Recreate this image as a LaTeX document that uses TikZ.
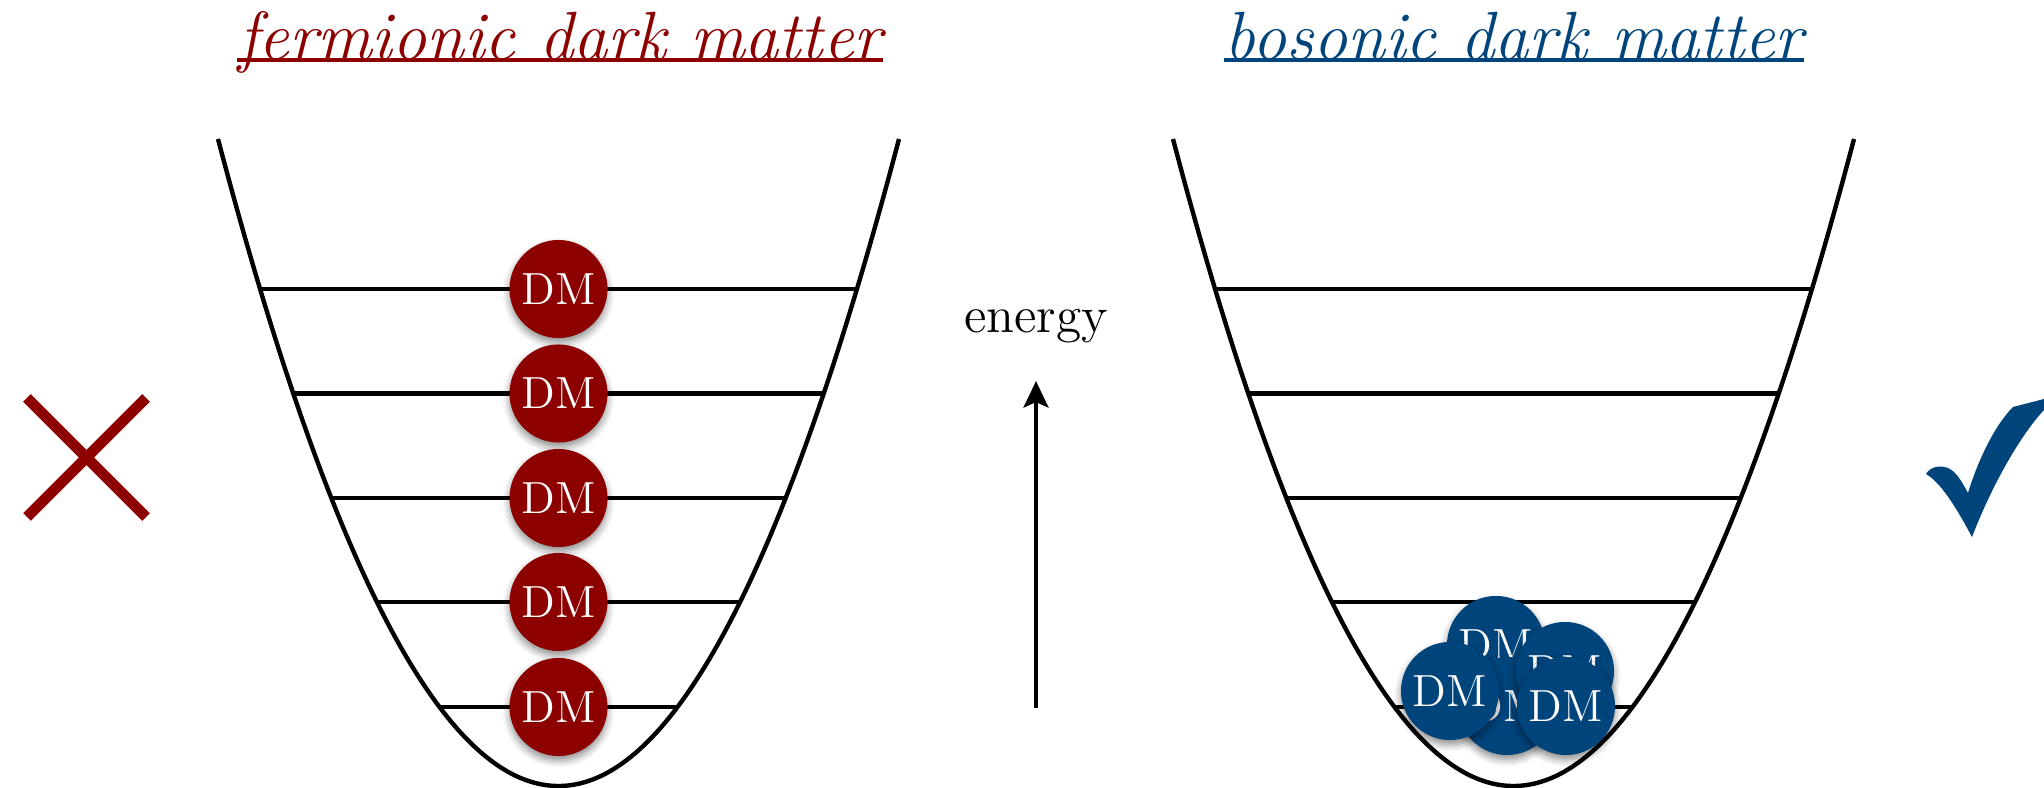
\documentclass[tikz,border=0pt]{standalone}
\usetikzlibrary{arrows.meta,shadows.blur}
\definecolor{dmred}{RGB}{140,0,0}
\definecolor{dmblue}{RGB}{0,68,124}
\begin{document}
\begin{tikzpicture}[x=0.01cm,y=-0.01cm,
  well/.style={line width=1.25pt, black},
  lvl/.style={line width=1.25pt, black},
  dmball/.style={circle, minimum size=0.98cm, inner sep=0pt, text=white,
    font=\fontsize{12.8}{14}\selectfont,
    blur shadow={shadow xshift=0pt, shadow yshift=-1.3pt, shadow blur radius=2pt, shadow opacity=45}},
  fdm/.style={dmball, fill=dmred},
  bdm/.style={dmball, fill=dmblue},
  ttl/.style={font=\fontsize{19.4}{22}\selectfont\itshape, inner sep=0pt, anchor=base},
  uline/.style={line width=0.9pt, yshift=-2.9pt},
  xmark/.style={line width=3.1pt, dmred, line cap=butt},
  energyarrow/.style={line width=1.4pt, -{Stealth[length=7.5pt,width=7pt,inset=1.5pt]}},
]
\useasboundingbox (0,0) rectangle (2044,788);

% titles
\node[ttl, text=dmred] (tf) at (560,60) {fermionic dark matter};
\draw[uline, dmred] (tf.base west) -- (tf.base east);
\node[ttl, text=dmblue] (tb) at (1514,60) {bosonic dark matter};
\draw[uline, dmblue] (tb.base west) -- (tb.base east);

% left well
\draw[well] (218,139) .. controls (445,1001.7) and (672,1001.7) .. (899,139);
\draw[lvl] (260.1,289) -- (856.9,289);
\draw[lvl] (293.3,393.5) -- (823.7,393.5);
\draw[lvl] (331.3,498) -- (785.7,498);
\draw[lvl] (376.9,602) -- (740.1,602);
\draw[lvl] (439.5,707) -- (677.5,707);

% right well
\draw[well] (1173,139) .. controls (1400,1001.7) and (1627,1001.7) .. (1854,139);
\draw[lvl] (1215.1,289) -- (1811.9,289);
\draw[lvl] (1248.3,393.5) -- (1778.7,393.5);
\draw[lvl] (1286.3,498) -- (1740.7,498);
\draw[lvl] (1331.9,602) -- (1695.1,602);
\draw[lvl] (1394.5,707) -- (1632.5,707);

% fermions
\node[fdm] (f1) at (558.5,289) {DM};
\node[fdm] (f2) at (558.5,393.5) {DM};
\node[fdm] (f3) at (558.5,498) {DM};
\node[fdm] (f4) at (558.5,602) {DM};
\node[fdm] (f5) at (558.5,707) {DM};

% bosons
\node[bdm] (ba) at (1496,645) {DM};
\node[bdm] (bb) at (1507,706) {DM};
\node[bdm] (bc) at (1565,671) {DM};
\node[bdm] (bd) at (1450,691) {DM};
\node[bdm] (be) at (1566,706) {DM};

% energy axis
\node[font=\fontsize{14.6}{17}\selectfont, inner sep=0pt, anchor=base] (en) at (1036,333) {energy};
\coordinate (ab) at (1036,708);
\coordinate (at) at (1036,381);
\draw[energyarrow] (ab) -- (at);

% cross
\draw[xmark] (27,398) -- (146,517);
\draw[xmark] (27,517) -- (146,398);

% check mark
\fill[dmblue] (1972,537) .. controls (1955,505) and (1940,482) .. (1926,474)
  .. controls (1930,467) and (1940,464) .. (1950,469)
  .. controls (1958,474) and (1963,484) .. (1968,493)
  .. controls (1978,460) and (1995,425) .. (2013,407)
  -- (2044,399) -- (2044,410)
  .. controls (2018,438) and (1990,490) .. (1972,537) -- cycle;
\end{tikzpicture}
\end{document}
